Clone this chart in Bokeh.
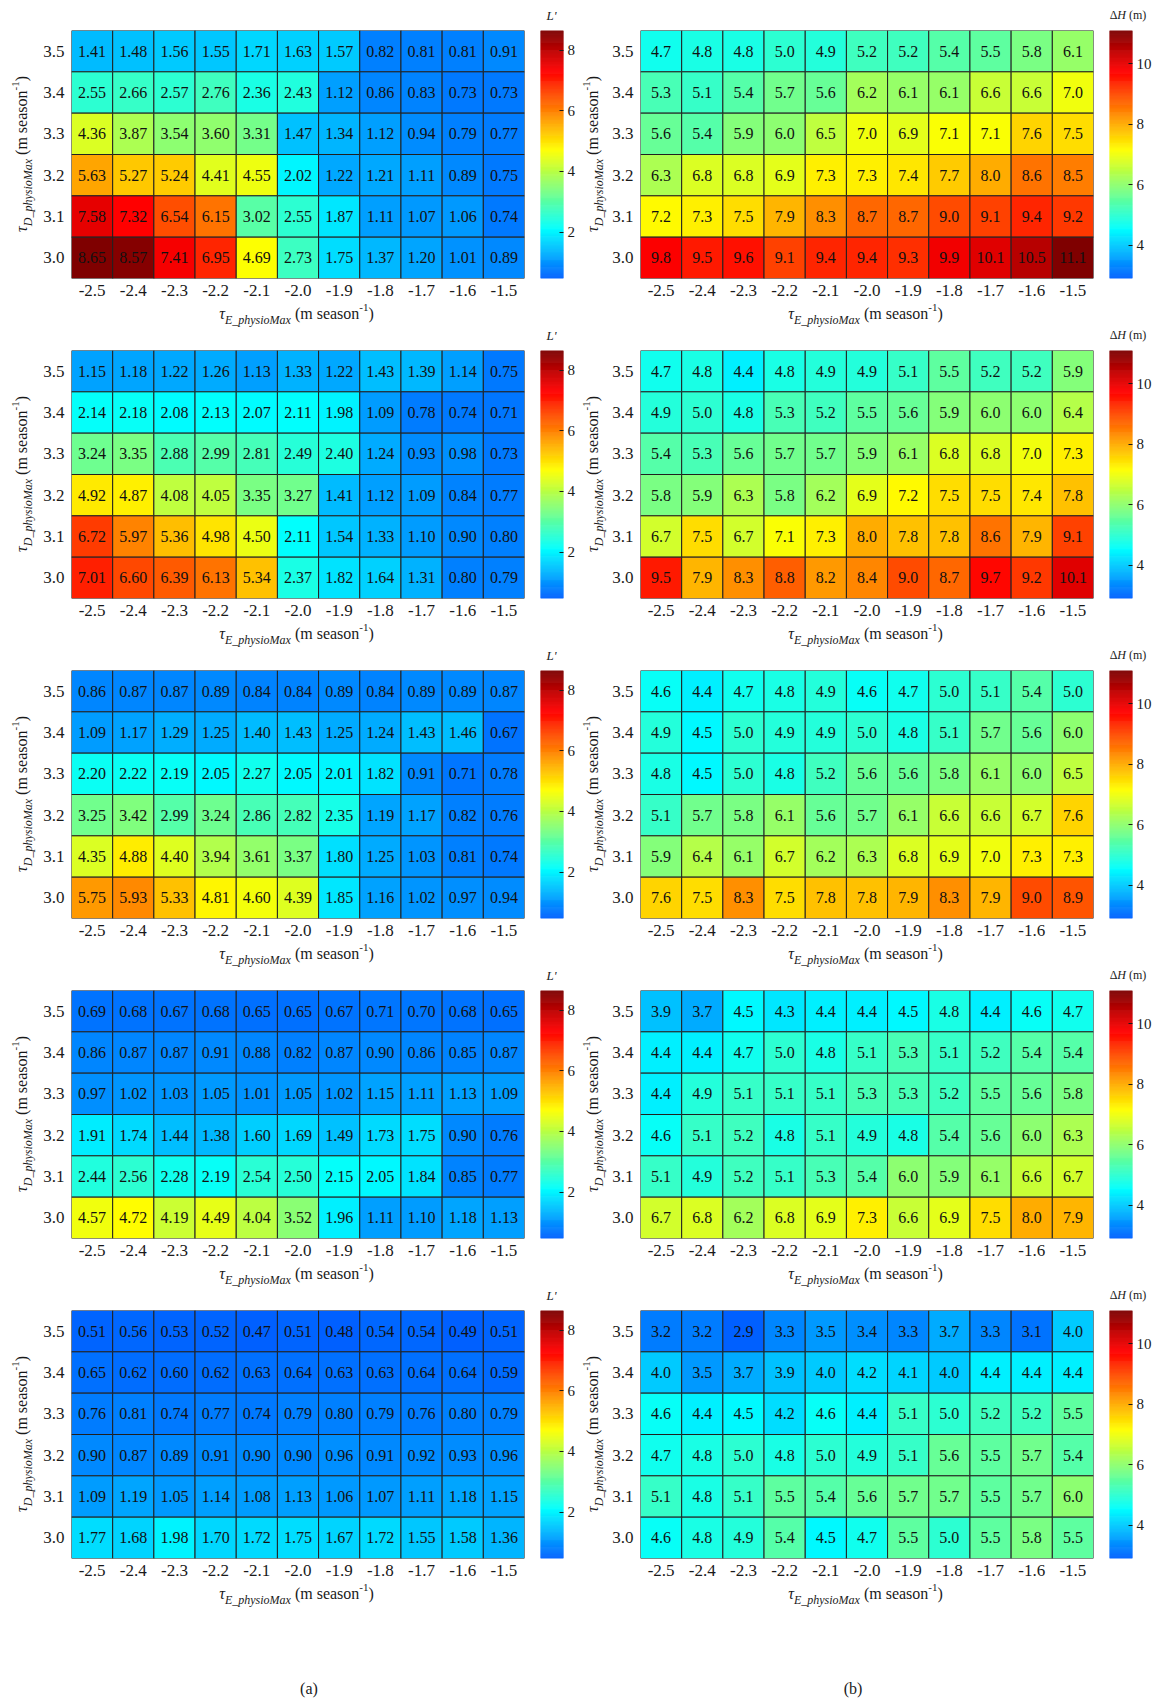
import numpy as np
from bokeh.plotting import figure
from bokeh.models import ColumnDataSource, LinearColorMapper, Range1d, FixedTicker, Spacer, Div
from bokeh.layouts import row, column
from bokeh.embed import file_html
from bokeh.resources import INLINE
from bokeh.core.properties import value

# ---------------- data ----------------
tau_E = ["-2.5", "-2.4", "-2.3", "-2.2", "-2.1", "-2.0", "-1.9", "-1.8", "-1.7", "-1.6", "-1.5"]
tau_D = ["3.5", "3.4", "3.3", "3.2", "3.1", "3.0"]  # rows listed top -> bottom

L_1 = [[1.41, 1.48, 1.56, 1.55, 1.71, 1.63, 1.57, 0.82, 0.81, 0.81, 0.91],
       [2.55, 2.66, 2.57, 2.76, 2.36, 2.43, 1.12, 0.86, 0.83, 0.73, 0.73],
       [4.36, 3.87, 3.54, 3.60, 3.31, 1.47, 1.34, 1.12, 0.94, 0.79, 0.77],
       [5.63, 5.27, 5.24, 4.41, 4.55, 2.02, 1.22, 1.21, 1.11, 0.89, 0.75],
       [7.58, 7.32, 6.54, 6.15, 3.02, 2.55, 1.87, 1.11, 1.07, 1.06, 0.74],
       [8.65, 8.57, 7.41, 6.95, 4.69, 2.73, 1.75, 1.37, 1.20, 1.01, 0.89]]
L_2 = [[1.15, 1.18, 1.22, 1.26, 1.13, 1.33, 1.22, 1.43, 1.39, 1.14, 0.75],
       [2.14, 2.18, 2.08, 2.13, 2.07, 2.11, 1.98, 1.09, 0.78, 0.74, 0.71],
       [3.24, 3.35, 2.88, 2.99, 2.81, 2.49, 2.40, 1.24, 0.93, 0.98, 0.73],
       [4.92, 4.87, 4.08, 4.05, 3.35, 3.27, 1.41, 1.12, 1.09, 0.84, 0.77],
       [6.72, 5.97, 5.36, 4.98, 4.50, 2.11, 1.54, 1.33, 1.10, 0.90, 0.80],
       [7.01, 6.60, 6.39, 6.13, 5.34, 2.37, 1.82, 1.64, 1.31, 0.80, 0.79]]
L_3 = [[0.86, 0.87, 0.87, 0.89, 0.84, 0.84, 0.89, 0.84, 0.89, 0.89, 0.87],
       [1.09, 1.17, 1.29, 1.25, 1.40, 1.43, 1.25, 1.24, 1.43, 1.46, 0.67],
       [2.20, 2.22, 2.19, 2.05, 2.27, 2.05, 2.01, 1.82, 0.91, 0.71, 0.78],
       [3.25, 3.42, 2.99, 3.24, 2.86, 2.82, 2.35, 1.19, 1.17, 0.82, 0.76],
       [4.35, 4.88, 4.40, 3.94, 3.61, 3.37, 1.80, 1.25, 1.03, 0.81, 0.74],
       [5.75, 5.93, 5.33, 4.81, 4.60, 4.39, 1.85, 1.16, 1.02, 0.97, 0.94]]
L_4 = [[0.69, 0.68, 0.67, 0.68, 0.65, 0.65, 0.67, 0.71, 0.70, 0.68, 0.65],
       [0.86, 0.87, 0.87, 0.91, 0.88, 0.82, 0.87, 0.90, 0.86, 0.85, 0.87],
       [0.97, 1.02, 1.03, 1.05, 1.01, 1.05, 1.02, 1.15, 1.11, 1.13, 1.09],
       [1.91, 1.74, 1.44, 1.38, 1.60, 1.69, 1.49, 1.73, 1.75, 0.90, 0.76],
       [2.44, 2.56, 2.28, 2.19, 2.54, 2.50, 2.15, 2.05, 1.84, 0.85, 0.77],
       [4.57, 4.72, 4.19, 4.49, 4.04, 3.52, 1.96, 1.11, 1.10, 1.18, 1.13]]
L_5 = [[0.51, 0.56, 0.53, 0.52, 0.47, 0.51, 0.48, 0.54, 0.54, 0.49, 0.51],
       [0.65, 0.62, 0.60, 0.62, 0.63, 0.64, 0.63, 0.63, 0.64, 0.64, 0.59],
       [0.76, 0.81, 0.74, 0.77, 0.74, 0.79, 0.80, 0.79, 0.76, 0.80, 0.79],
       [0.90, 0.87, 0.89, 0.91, 0.90, 0.90, 0.96, 0.91, 0.92, 0.93, 0.96],
       [1.09, 1.19, 1.05, 1.14, 1.08, 1.13, 1.06, 1.07, 1.11, 1.18, 1.15],
       [1.77, 1.68, 1.98, 1.70, 1.72, 1.75, 1.67, 1.72, 1.55, 1.58, 1.36]]

H_1 = [[4.7, 4.8, 4.8, 5.0, 4.9, 5.2, 5.2, 5.4, 5.5, 5.8, 6.1],
       [5.3, 5.1, 5.4, 5.7, 5.6, 6.2, 6.1, 6.1, 6.6, 6.6, 7.0],
       [5.6, 5.4, 5.9, 6.0, 6.5, 7.0, 6.9, 7.1, 7.1, 7.6, 7.5],
       [6.3, 6.8, 6.8, 6.9, 7.3, 7.3, 7.4, 7.7, 8.0, 8.6, 8.5],
       [7.2, 7.3, 7.5, 7.9, 8.3, 8.7, 8.7, 9.0, 9.1, 9.4, 9.2],
       [9.8, 9.5, 9.6, 9.1, 9.4, 9.4, 9.3, 9.9, 10.1, 10.5, 11.1]]
H_2 = [[4.7, 4.8, 4.4, 4.8, 4.9, 4.9, 5.1, 5.5, 5.2, 5.2, 5.9],
       [4.9, 5.0, 4.8, 5.3, 5.2, 5.5, 5.6, 5.9, 6.0, 6.0, 6.4],
       [5.4, 5.3, 5.6, 5.7, 5.7, 5.9, 6.1, 6.8, 6.8, 7.0, 7.3],
       [5.8, 5.9, 6.3, 5.8, 6.2, 6.9, 7.2, 7.5, 7.5, 7.4, 7.8],
       [6.7, 7.5, 6.7, 7.1, 7.3, 8.0, 7.8, 7.8, 8.6, 7.9, 9.1],
       [9.5, 7.9, 8.3, 8.8, 8.2, 8.4, 9.0, 8.7, 9.7, 9.2, 10.1]]
H_3 = [[4.6, 4.4, 4.7, 4.8, 4.9, 4.6, 4.7, 5.0, 5.1, 5.4, 5.0],
       [4.9, 4.5, 5.0, 4.9, 4.9, 5.0, 4.8, 5.1, 5.7, 5.6, 6.0],
       [4.8, 4.5, 5.0, 4.8, 5.2, 5.6, 5.6, 5.8, 6.1, 6.0, 6.5],
       [5.1, 5.7, 5.8, 6.1, 5.6, 5.7, 6.1, 6.6, 6.6, 6.7, 7.6],
       [5.9, 6.4, 6.1, 6.7, 6.2, 6.3, 6.8, 6.9, 7.0, 7.3, 7.3],
       [7.6, 7.5, 8.3, 7.5, 7.8, 7.8, 7.9, 8.3, 7.9, 9.0, 8.9]]
H_4 = [[3.9, 3.7, 4.5, 4.3, 4.4, 4.4, 4.5, 4.8, 4.4, 4.6, 4.7],
       [4.4, 4.4, 4.7, 5.0, 4.8, 5.1, 5.3, 5.1, 5.2, 5.4, 5.4],
       [4.4, 4.9, 5.1, 5.1, 5.1, 5.3, 5.3, 5.2, 5.5, 5.6, 5.8],
       [4.6, 5.1, 5.2, 4.8, 5.1, 4.9, 4.8, 5.4, 5.6, 6.0, 6.3],
       [5.1, 4.9, 5.2, 5.1, 5.3, 5.4, 6.0, 5.9, 6.1, 6.6, 6.7],
       [6.7, 6.8, 6.2, 6.8, 6.9, 7.3, 6.6, 6.9, 7.5, 8.0, 7.9]]
H_5 = [[3.2, 3.2, 2.9, 3.3, 3.5, 3.4, 3.3, 3.7, 3.3, 3.1, 4.0],
       [4.0, 3.5, 3.7, 3.9, 4.0, 4.2, 4.1, 4.0, 4.4, 4.4, 4.4],
       [4.6, 4.4, 4.5, 4.2, 4.6, 4.4, 5.1, 5.0, 5.2, 5.2, 5.5],
       [4.7, 4.8, 5.0, 4.8, 5.0, 4.9, 5.1, 5.6, 5.5, 5.7, 5.4],
       [5.1, 4.8, 5.1, 5.5, 5.4, 5.6, 5.7, 5.7, 5.5, 5.7, 6.0],
       [4.6, 4.8, 4.9, 5.4, 4.5, 4.7, 5.5, 5.0, 5.5, 5.8, 5.5]]

L_panels = [L_1, L_2, L_3, L_4, L_5]
H_panels = [H_1, H_2, H_3, H_4, H_5]
L_ticks = [2, 4, 6, 8]
H_ticks = [4, 6, 8, 10]
panel_tags = ["(a)", "(b)"]
x_title_html = ("<i>\u03c4</i><sub><i>E_physioMax</i></sub> (m season<sup>-1</sup>)")
y_title_html = ("<i>\u03c4</i><sub><i>D_physioMax</i></sub> (m season<sup>-1</sup>)")
L_title_html = "<i>L'</i>"
H_title_html = "\u0394<i>H</i> (m)"

# ---------------- style / layout ----------------
FONT = "Liberation Serif"
TXT = "#1a1a1a"
FW, FH = 453, 248          # heatmap frame size
CBW = 23                   # colour-bar width
TOP, BOT = 22, 25          # heatmap fig borders
YB = 30                    # heatmap left border (tick labels)
HEAT_W = YB + FW + 1
HEAT_H = TOP + FH + BOT
XLAB_H = 25
ROW_H = HEAT_H + XLAB_H    # 320
CB_BOT = ROW_H - TOP - FH
CB_L_W = 15 + CBW + 14
CB_R_W = 15 + CBW + 22
YLAB_L_W = 40
YLAB_R_W = 31


def jet(t):
    r = np.clip(1.5 - abs(4 * t - 3), 0, 1)
    g = np.clip(1.5 - abs(4 * t - 2), 0, 1)
    b = np.clip(1.5 - abs(4 * t - 1), 0, 1)
    return "#%02x%02x%02x" % (int(r * 255), int(g * 255), int(b * 255))


PALETTE = [jet(t) for t in np.linspace(0.22, 1.0, 256)]

L_lo = min(min(r) for pnl in L_panels for r in pnl)
L_hi = max(max(r) for pnl in L_panels for r in pnl)
H_lo = min(min(r) for pnl in H_panels for r in pnl)
H_hi = max(max(r) for pnl in H_panels for r in pnl)
L_map = LinearColorMapper(palette=PALETTE, low=L_lo, high=L_hi)
H_map = LinearColorMapper(palette=PALETTE, low=H_lo, high=H_hi)

CSS = ("<style>sub{font-size:12px;vertical-align:-5px;line-height:0;}"
       "sup{font-size:11px;vertical-align:8px;line-height:0;}</style>")


def text_div(w, h, cx, cy, html, size=16, rotate=False):
    tr = "translate(-50%,-50%)" + (" rotate(-90deg)" if rotate else "")
    inner = (CSS +
             f'<div style="position:relative;width:{w}px;height:{h}px;">'
             f'<span style="position:absolute;left:{cx}px;top:{cy}px;transform:{tr};'
             f"white-space:nowrap;font-family:'{FONT}',serif;font-size:{size}px;"
             f'line-height:{size}px;color:{TXT};">{html}</span></div>')
    return Div(text=inner, width=w, height=h, margin=(0, 0, 0, 0))


def heat_fig(data, mapper, fmt):
    p = figure(x_range=tau_E, y_range=tau_D[::-1], frame_width=FW, frame_height=FH,
               min_border_left=YB, min_border_right=1, min_border_top=TOP,
               min_border_bottom=BOT, toolbar_location=None, tools="",
               output_backend="svg", title=None)
    xs, ys, vs, ts = [], [], [], []
    for i, yl in enumerate(tau_D):
        for j, xl in enumerate(tau_E):
            xs.append(xl); ys.append(yl); vs.append(data[i][j]); ts.append(fmt % data[i][j])
    src = ColumnDataSource(dict(x=xs, y=ys, v=vs, t=ts))
    p.rect("x", "y", 1, 1, source=src, fill_color={"field": "v", "transform": mapper},
           line_color="#202020", line_width=1)
    p.text("x", "y", text="t", source=src, text_align="center", text_baseline="middle",
           text_font=value(FONT), text_font_size="16px", text_color="#111111")
    p.grid.visible = False
    p.outline_line_color = None
    for ax in (p.xaxis[0], p.yaxis[0]):
        ax.axis_line_color = None
        ax.major_tick_line_color = None
        ax.minor_tick_line_color = None
        ax.major_tick_out = 0
        ax.major_tick_in = 0
        ax.minor_tick_out = 0
        ax.major_label_text_font = FONT
        ax.major_label_text_font_size = "17px"
        ax.major_label_text_color = TXT
    p.xaxis[0].major_label_standoff = 6
    p.yaxis[0].major_label_standoff = 7
    return p


def cb_fig(mapper, lo, hi, ticks, border_right):
    p = figure(x_range=Range1d(0, 1), y_range=Range1d(lo, hi), frame_width=CBW,
               frame_height=FH, min_border_left=15, min_border_right=border_right,
               min_border_top=0, min_border_bottom=CB_BOT, x_axis_location=None,
               y_axis_location="right", toolbar_location=None, tools="",
               output_backend="svg", title=None)
    edges = np.linspace(lo, hi, 257)
    src = ColumnDataSource(dict(b=edges[:-1], t=edges[1:], m=(edges[:-1] + edges[1:]) / 2))
    p.quad(left=0, right=1, bottom="b", top="t", source=src,
           fill_color={"field": "m", "transform": mapper},
           line_color={"field": "m", "transform": mapper}, line_width=0.6)
    p.grid.visible = False
    p.outline_line_color = None
    ax = p.yaxis[0]
    ax.ticker = FixedTicker(ticks=ticks)
    ax.axis_line_color = None
    ax.major_tick_in = 4
    ax.major_tick_out = 0
    ax.minor_tick_out = 0
    ax.major_tick_line_color = TXT
    ax.minor_tick_line_color = None
    ax.major_label_text_font = FONT
    ax.major_label_text_font_size = "15px"
    ax.major_label_text_color = TXT
    ax.major_label_standoff = 4
    return p


FRAME_MID = TOP + FH / 2.0   # frame centre from row top

rows = []
for k in range(5):
    ylabL = text_div(YLAB_L_W, ROW_H, 22, FRAME_MID, y_title_html, rotate=True)
    heatL = heat_fig(L_panels[k], L_map, "%.2f")
    xlabL = text_div(HEAT_W, XLAB_H, YB + FW / 2.0, 11, x_title_html)
    titL = text_div(CB_L_W, TOP, 15 + CBW / 2.0, 7, L_title_html, size=13)
    cbL = cb_fig(L_map, L_lo, L_hi, L_ticks, 14)

    ylabR = text_div(YLAB_R_W, ROW_H, 15, FRAME_MID, y_title_html, rotate=True)
    heatR = heat_fig(H_panels[k], H_map, "%.1f")
    xlabR = text_div(HEAT_W, XLAB_H, YB + FW / 2.0, 11, x_title_html)
    titR = text_div(CB_R_W, TOP, 34, 7, H_title_html, size=12)
    cbR = cb_fig(H_map, H_lo, H_hi, H_ticks, 22)

    rows.append(row(ylabL, column(heatL, xlabL), column(titL, cbL),
                    ylabR, column(heatR, xlabR), column(titR, cbR)))

TOTAL_W = YLAB_L_W + HEAT_W + CB_L_W + YLAB_R_W + HEAT_W + CB_R_W
BH = 92
bottom = figure(width=TOTAL_W, height=BH, x_range=Range1d(0, TOTAL_W), y_range=Range1d(0, BH),
                x_axis_location=None, y_axis_location=None, toolbar_location=None, tools="",
                output_backend="svg", title=None, min_border=0)
bottom.grid.visible = False
bottom.outline_line_color = None
left_mid = YLAB_L_W + YB + FW / 2.0
right_mid = YLAB_L_W + HEAT_W + CB_L_W + YLAB_R_W + YB + FW / 2.0
tag_x = [left_mid + 12, right_mid - 11]
bottom.text(x=tag_x, y=[12, 12], text=panel_tags, text_align="center", text_baseline="middle",
            text_font=value(FONT), text_font_size="16px", text_color=TXT)

layout = column(Spacer(width=TOTAL_W, height=8), *rows, bottom)
open("out.html", "w").write(file_html(layout, INLINE))
